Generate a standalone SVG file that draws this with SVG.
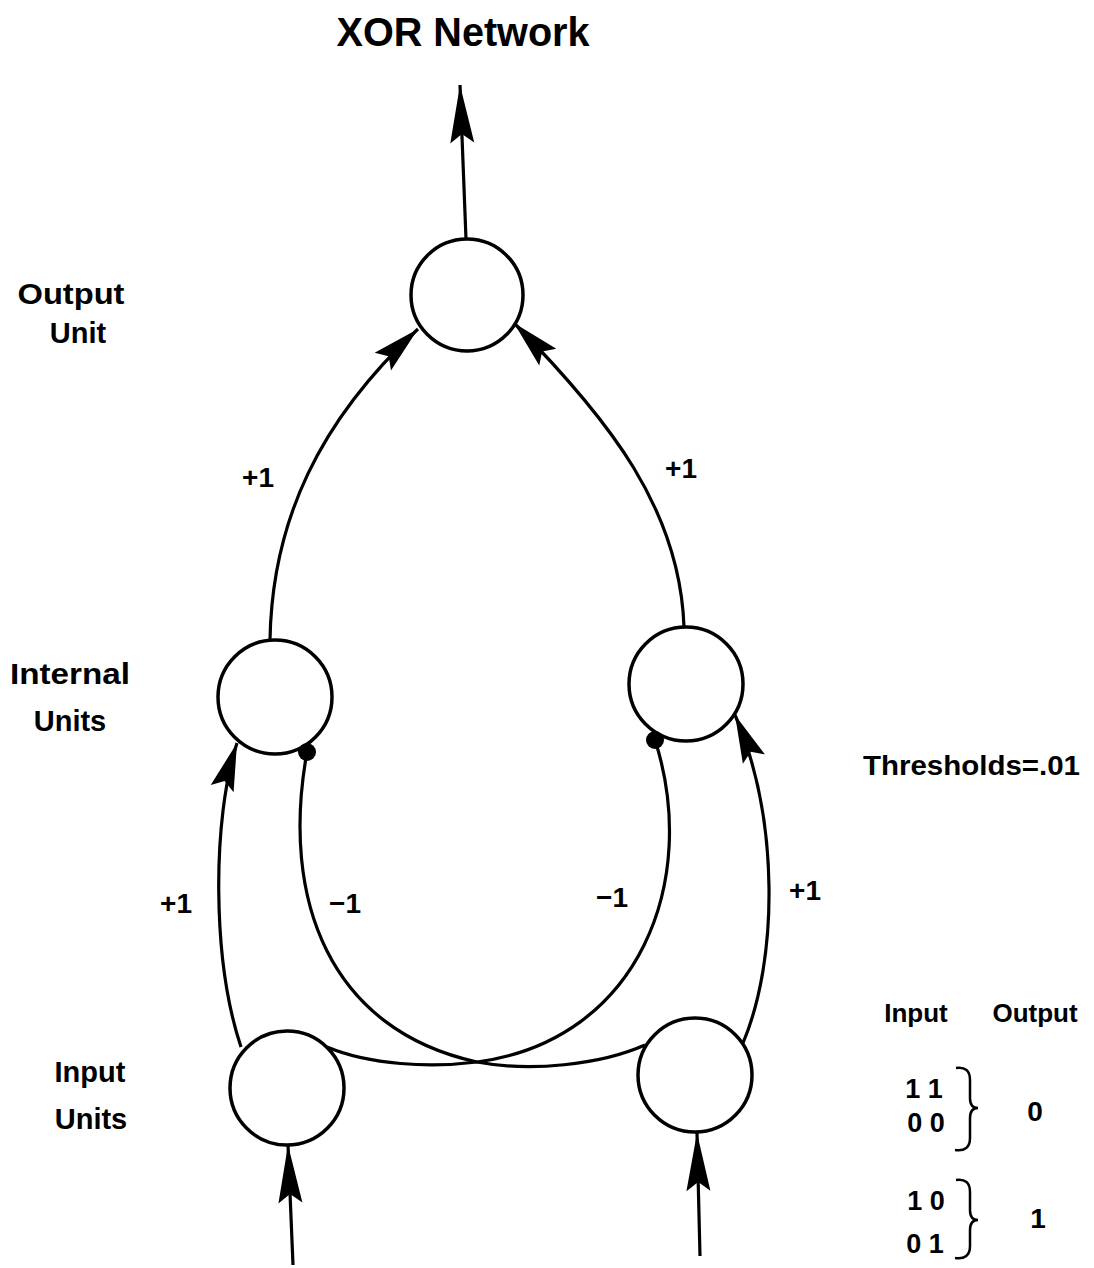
<svg xmlns="http://www.w3.org/2000/svg" width="1094" height="1268" viewBox="0 0 1094 1268">
<style>
.node{fill:#fff;stroke:#000;stroke-width:3.5}
.edge{fill:none;stroke:#000;stroke-width:3.2}
.brace{fill:none;stroke:#000;stroke-width:2.5}
.lbl{font-family:"Liberation Sans",Arial,Helvetica,sans-serif;font-weight:bold;fill:#000}
.dot{fill:#000}
</style>
<defs>
<marker id="ah" markerUnits="userSpaceOnUse" viewBox="-52 -14 56 28" markerWidth="56" markerHeight="28" refX="0" refY="0" orient="auto" overflow="visible">
<path d="M0,0 L-48,-12 L-40,0 L-48,12 Z" fill="#000"/>
</marker>
<marker id="ahL" markerUnits="userSpaceOnUse" viewBox="-62 -14 66 28" markerWidth="66" markerHeight="28" refX="0" refY="0" orient="auto" overflow="visible">
<path d="M0,0 L-58,-12 L-49,0 L-58,12 Z" fill="#000"/>
</marker>
</defs>
<rect width="1094" height="1268" fill="#fff"/>

<text class="lbl" x="463" y="46" font-size="40" text-anchor="middle" textLength="253" lengthAdjust="spacingAndGlyphs">XOR Network</text>

<g id="output-unit"><circle class="node" cx="467" cy="295" r="56"/></g>
<g id="internal-left"><circle class="node" cx="275" cy="697" r="57"/></g>
<g id="internal-right"><circle class="node" cx="686" cy="684" r="57"/></g>
<g id="input-left"><circle class="node" cx="287" cy="1088" r="57"/></g>
<g id="input-right"><circle class="node" cx="695" cy="1075" r="57"/></g>

<g id="connectors">
<path class="edge" d="M466,239 L460,85" marker-end="url(#ahL)"/>
<path class="edge" d="M293,1265 L288,1145" marker-end="url(#ahL)"/>
<path class="edge" d="M700,1256 L697,1133" marker-end="url(#ahL)"/>
<path class="edge" d="M270,640 C272,520 320,420 418,329" marker-end="url(#ah)"/>
<path class="edge" d="M684,627 C680,510 610,420 514,323" marker-end="url(#ah)"/>
<path class="edge" d="M241,1047 C212,960 212,820 237,743" marker-end="url(#ah)"/>
<path class="edge" d="M743,1043 C778,960 780,820 735,715" marker-end="url(#ah)"/>
<path class="edge" d="M645,1045 C600,1065 530,1072 477,1062 C330,1030 280,900 307,752"/>
<path class="edge" d="M327,1047 C370,1065 430,1068 477,1062 C640,1040 700,880 655,740"/>
<circle class="dot" cx="307" cy="752" r="9"/>
<circle class="dot" cx="655" cy="740" r="9"/>
</g>

<g id="edge-labels">
<text class="lbl" x="258" y="487" font-size="28" text-anchor="middle">+1</text>
<text class="lbl" x="681" y="478" font-size="28" text-anchor="middle">+1</text>
<text class="lbl" x="176" y="913" font-size="28" text-anchor="middle">+1</text>
<text class="lbl" x="345" y="913" font-size="28" text-anchor="middle">−1</text>
<text class="lbl" x="612" y="907" font-size="28" text-anchor="middle">−1</text>
<text class="lbl" x="805" y="900" font-size="28" text-anchor="middle">+1</text>
</g>

<g id="layer-labels">
<text class="lbl" x="71" y="304" font-size="29" text-anchor="middle" textLength="107" lengthAdjust="spacingAndGlyphs">Output</text>
<text class="lbl" x="78" y="343" font-size="29" text-anchor="middle">Unit</text>
<text class="lbl" x="70" y="684" font-size="29" text-anchor="middle" textLength="120" lengthAdjust="spacingAndGlyphs">Internal</text>
<text class="lbl" x="70" y="731" font-size="29" text-anchor="middle">Units</text>
<text class="lbl" x="90" y="1082" font-size="29" text-anchor="middle">Input</text>
<text class="lbl" x="91" y="1129" font-size="29" text-anchor="middle">Units</text>
</g>

<g id="thresholds">
<text class="lbl" x="863" y="775" font-size="28" textLength="217" lengthAdjust="spacingAndGlyphs">Thresholds=.01</text>
</g>

<g id="truth-table">
<text class="lbl" x="916" y="1022" font-size="26" text-anchor="middle">Input</text>
<text class="lbl" x="1035" y="1022" font-size="26" text-anchor="middle">Output</text>
<text class="lbl" x="924" y="1098" font-size="27" text-anchor="middle">1 1</text>
<text class="lbl" x="926" y="1132" font-size="27" text-anchor="middle">0 0</text>
<text class="lbl" x="926" y="1210" font-size="27" text-anchor="middle">1 0</text>
<text class="lbl" x="925" y="1253" font-size="27" text-anchor="middle">0 1</text>
<text class="lbl" x="1035" y="1121" font-size="28" text-anchor="middle">0</text>
<text class="lbl" x="1038" y="1228" font-size="28" text-anchor="middle">1</text>
<path class="brace" d="M956,1068 Q970,1066 970,1080 L970,1098 Q970,1108 978,1108 Q970,1108 970,1118 L970,1138 Q970,1152 955,1150"/>
<path class="brace" d="M956,1180 Q970,1178 970,1192 L970,1210 Q970,1220 978,1220 Q970,1220 970,1230 L970,1246 Q970,1260 955,1258"/>
</g>
</svg>
